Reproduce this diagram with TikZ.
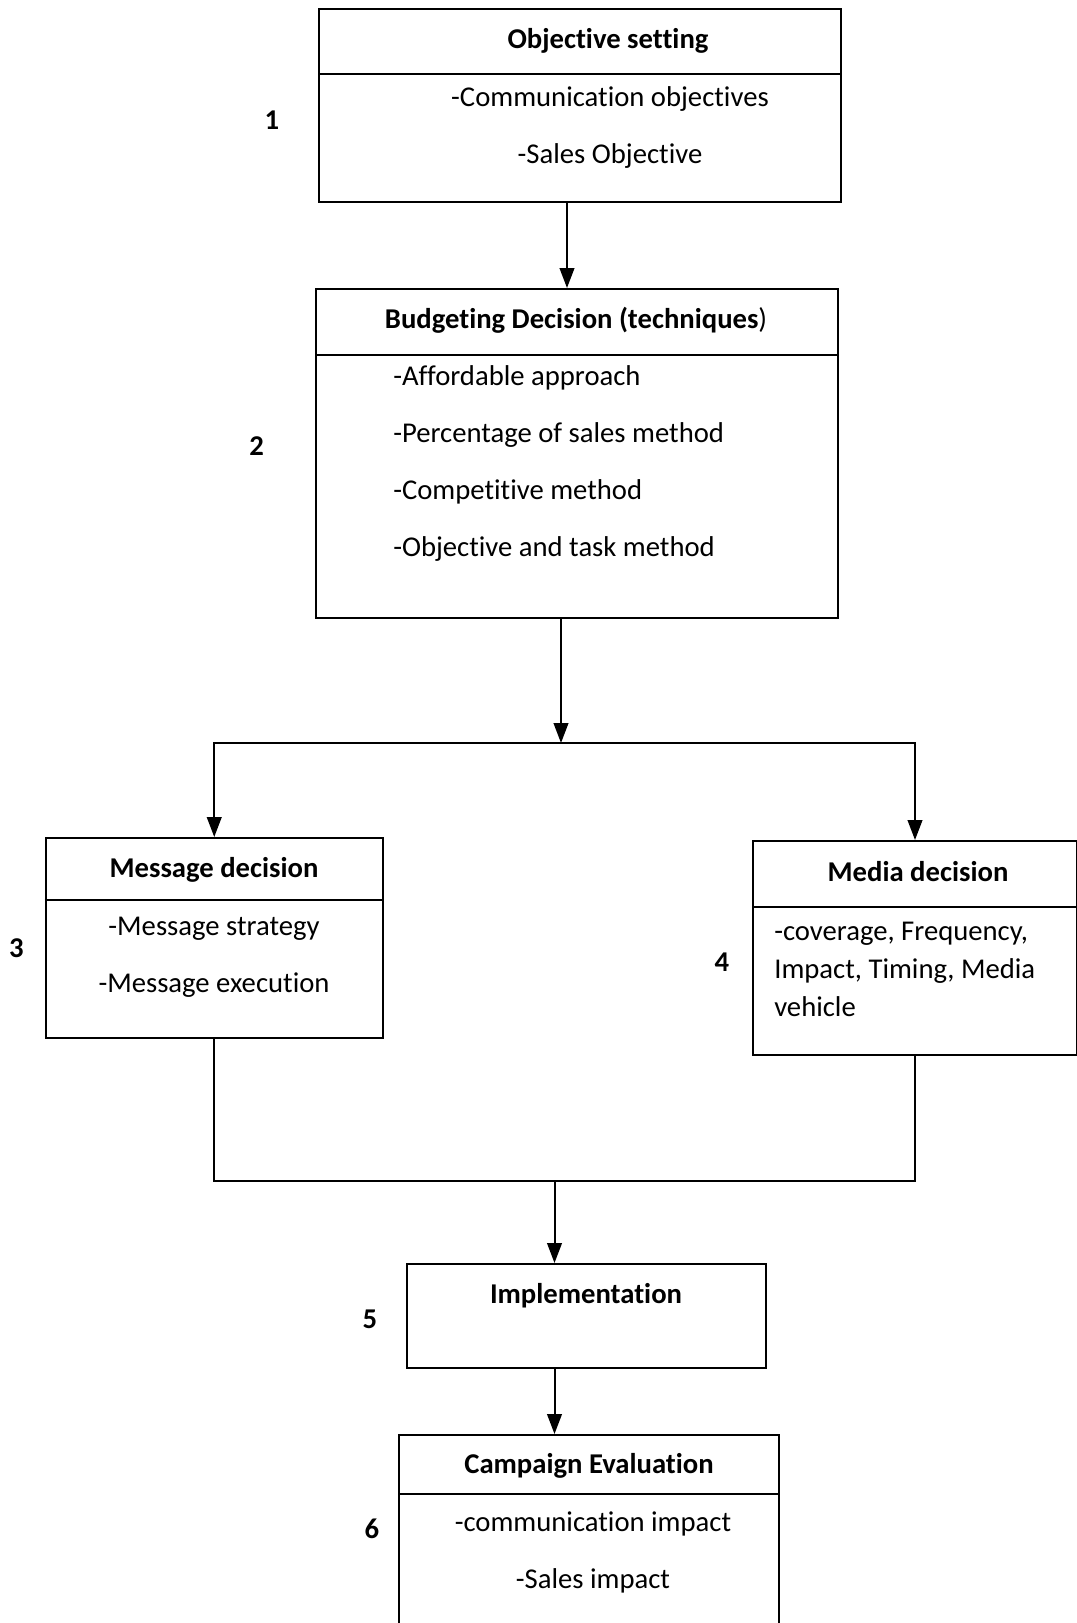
\documentclass[tikz,border=0pt]{standalone}
\usepackage{fontspec}
\setmainfont{Carlito}[Ligatures=NoCommon]
\usetikzlibrary{arrows.meta,fit}

\tikzset{
  box/.style={draw, line width=1.5pt, inner sep=0pt},
  ttl/.style={font=\fontsize{21.5}{28.3}\selectfont\bfseries, inner sep=0pt},
  txt/.style={font=\fontsize{21.5}{28.3}\selectfont, inner sep=0pt, anchor=north},
  num/.style={font=\fontsize{21.5}{28.3}\selectfont\bfseries, inner sep=0pt},
  arr/.style={line width=1.5pt, -{Triangle[width=11pt,length=15pt]}},
  lin/.style={line width=1.5pt},
}

\begin{document}
\begin{tikzpicture}[x=0.75pt,y=-0.75pt]
    \useasboundingbox (0,0) rectangle (1076,1623);

    % Boxes
    \node[box, fit={(319,9)(841,202)}] (obj) {};
    \node[box, fit={(316,289)(838,618)}] (budget) {};
    \node[box, fit={(45.5,838)(383,1038)}] (msg) {};
    \node[box, fit={(753,841)(1077,1055)}] (media) {};
    \node[box, fit={(406.6,1264)(765.6,1368)}] (impl) {};
    \node[box, fit={(399,1435)(779,1632)}] (eval) {};

    % Dividers
    \draw[lin] (obj.west |- 0,74.5) -- (obj.east |- 0,74.5);
    \draw[lin] (budget.west |- 0,355) -- (budget.east |- 0,355);
    \draw[lin] (msg.west |- 0,900) -- (msg.east |- 0,900);
    \draw[lin] (media.west |- 0,907) -- (media.east |- 0,907);
    \draw[lin] (eval.west |- 0,1494) -- (eval.east |- 0,1494);

    % Titles
    \node[ttl] (objT) at (608,41) {Objective setting};
    \node[ttl] (budgetT) at (576,320) {Budgeting Decision (techniques\textmd{)}};
    \node[ttl] (msgT) at (214,870) {Message decision};
    \node[ttl] (mediaT) at (918,872) {Media decision};
    \node[ttl] (implT) at (586,1296) {Implementation};
    \node[ttl] (evalT) at (589,1466) {Campaign Evaluation};

    % Contents
    \node[txt, align=center] (objB) at (610,86.5)
        {-Communication objectives\\[14.5pt] -Sales Objective};
    \node[txt, align=left, anchor=north west] (budgetB) at (393,365)
        {-Affordable approach\\[14.5pt] -Percentage of sales method\\[14.5pt]
         -Competitive method\\[14.5pt] -Objective and task method};
    \node[txt, align=center] (msgB) at (214,916.5)
        {-Message strategy\\[14.5pt] -Message execution};
    \node[txt, align=left, anchor=north west] (mediaB) at (774,922)
        {-coverage, Frequency,\\ Impact, Timing, Media\\ vehicle};
    \node[txt, align=center] (evalB) at (593,1511.5)
        {-communication impact\\[14.5pt] -Sales impact};

    % Step numbers
    \node[num] (n1) at (272,120) {1};
    \node[num] (n2) at (256.6,446) {2};
    \node[num] (n3) at (16.5,948) {3};
    \node[num] (n4) at (722,962) {4};
    \node[num] (n5) at (370,1319) {5};
    \node[num] (n6) at (372,1529) {6};

    % Junctions
    \coordinate (j1) at (561,743);
    \coordinate (j2) at (554.5,1180.5);

    % Connectors
    \draw[arr] (obj.south -| 567,0) -- (budget.north -| 567,0);
    \draw[arr] (budget.south -| j1) -- (j1);
    \draw[arr] (j1) -| (msg.north);
    \draw[arr] (j1) -| (media.north);
    \draw[lin] (msg.south) |- (j2) -| (media.south);
    \draw[arr] (j2) -- (impl.north -| j2);
    \draw[arr] (impl.south -| j2) -- (eval.north -| j2);
\end{tikzpicture}
\end{document}
